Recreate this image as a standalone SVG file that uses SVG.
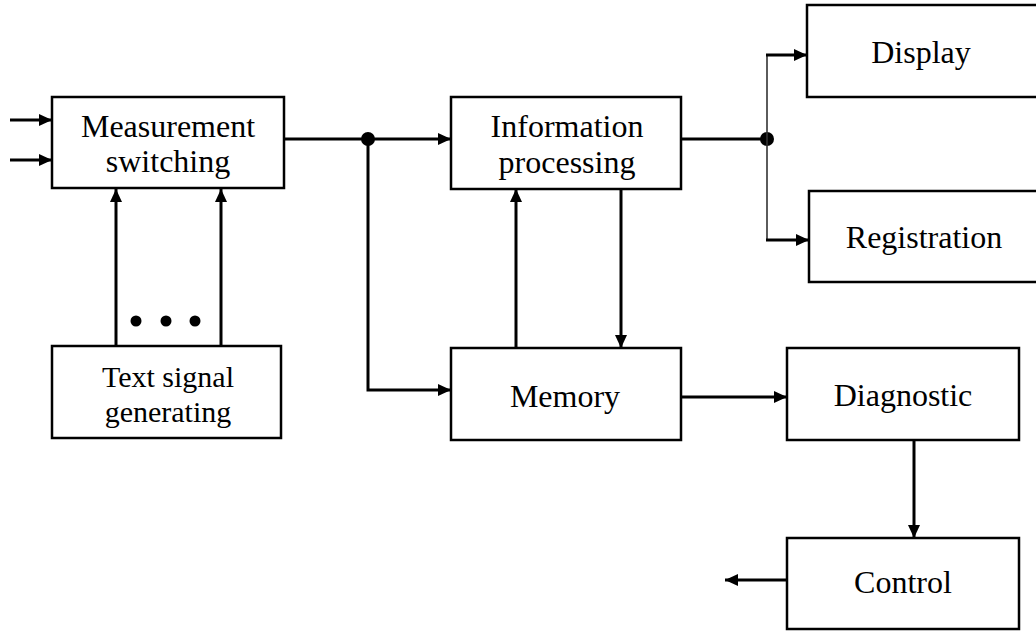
<svg xmlns="http://www.w3.org/2000/svg" width="1036" height="632" viewBox="0 0 1036 632">
<style>
.box{fill:#fff;stroke:#000;stroke-width:2.5}
.t{font-family:"Liberation Serif","Times New Roman",serif;font-size:32px;fill:#000;text-anchor:middle}
.ts{font-size:30px}
.c{fill:none;stroke:#000;stroke-width:3}
.thin{fill:none;stroke:#333;stroke-width:1.6}
</style>
<defs>
<marker id="ah" viewBox="0 0 13 12" refX="13" refY="6" markerWidth="13" markerHeight="12" markerUnits="userSpaceOnUse" orient="auto">
<path d="M0,0 L13,6 L0,12 z" fill="#000"/>
</marker>
</defs>
<rect width="1036" height="632" fill="#fff"/>
<g id="connectors">
<line class="c" x1="10" y1="120" x2="52" y2="120" marker-end="url(#ah)"/>
<line class="c" x1="10" y1="160" x2="52" y2="160" marker-end="url(#ah)"/>
<line class="c" x1="116" y1="346" x2="116" y2="189" marker-end="url(#ah)"/>
<line class="c" x1="221" y1="346" x2="221" y2="189" marker-end="url(#ah)"/>
<line class="c" x1="284" y1="139" x2="451" y2="139" marker-end="url(#ah)"/>
<circle cx="368" cy="139" r="7" fill="#000"/>
<polyline class="c" points="368,139 368,390 451,390" marker-end="url(#ah)"/>
<line class="c" x1="681" y1="139" x2="767" y2="139"/>
<circle cx="767" cy="139" r="7" fill="#000"/>
<polyline class="thin" points="767,55 767,240"/>
<line class="c" x1="766" y1="55" x2="807" y2="55" marker-end="url(#ah)"/>
<line class="c" x1="766" y1="240" x2="809" y2="240" marker-end="url(#ah)"/>
<line class="c" x1="516" y1="348" x2="516" y2="189" marker-end="url(#ah)"/>
<line class="c" x1="621" y1="189" x2="621" y2="348" marker-end="url(#ah)"/>
<line class="c" x1="681" y1="397" x2="787" y2="397" marker-end="url(#ah)"/>
<line class="c" x1="914" y1="440" x2="914" y2="538" marker-end="url(#ah)"/>
<line class="c" x1="787" y1="580" x2="725" y2="580" marker-end="url(#ah)"/>
<circle cx="136" cy="321" r="5.5" fill="#000"/>
<circle cx="166" cy="321" r="5.5" fill="#000"/>
<circle cx="195" cy="321" r="5.5" fill="#000"/>
</g>
<g id="measurement">
<rect class="box" x="52" y="97" width="232" height="91"/>
<text class="t" x="168" y="137">Measurement</text>
<text class="t" x="168" y="172">switching</text>
</g>
<g id="textsignal">
<rect class="box" x="52" y="346" width="229" height="92"/>
<text class="t ts" x="168" y="387">Text signal</text>
<text class="t ts" x="168" y="422">generating</text>
</g>
<g id="infoproc">
<rect class="box" x="451" y="97" width="230" height="92"/>
<text class="t" x="567" y="137">Information</text>
<text class="t" x="567" y="173">processing</text>
</g>
<g id="memory">
<rect class="box" x="451" y="348" width="230" height="92"/>
<text class="t" x="565" y="407">Memory</text>
</g>
<g id="display">
<rect class="box" x="807" y="5" width="240" height="92"/>
<text class="t" x="921" y="63">Display</text>
</g>
<g id="registration">
<rect class="box" x="809" y="191" width="240" height="91"/>
<text class="t" x="924" y="248">Registration</text>
</g>
<g id="diagnostic">
<rect class="box" x="787" y="348" width="232" height="92"/>
<text class="t" x="903" y="406">Diagnostic</text>
</g>
<g id="control">
<rect class="box" x="787" y="538" width="232" height="91"/>
<text class="t" x="903" y="593">Control</text>
</g>
</svg>
